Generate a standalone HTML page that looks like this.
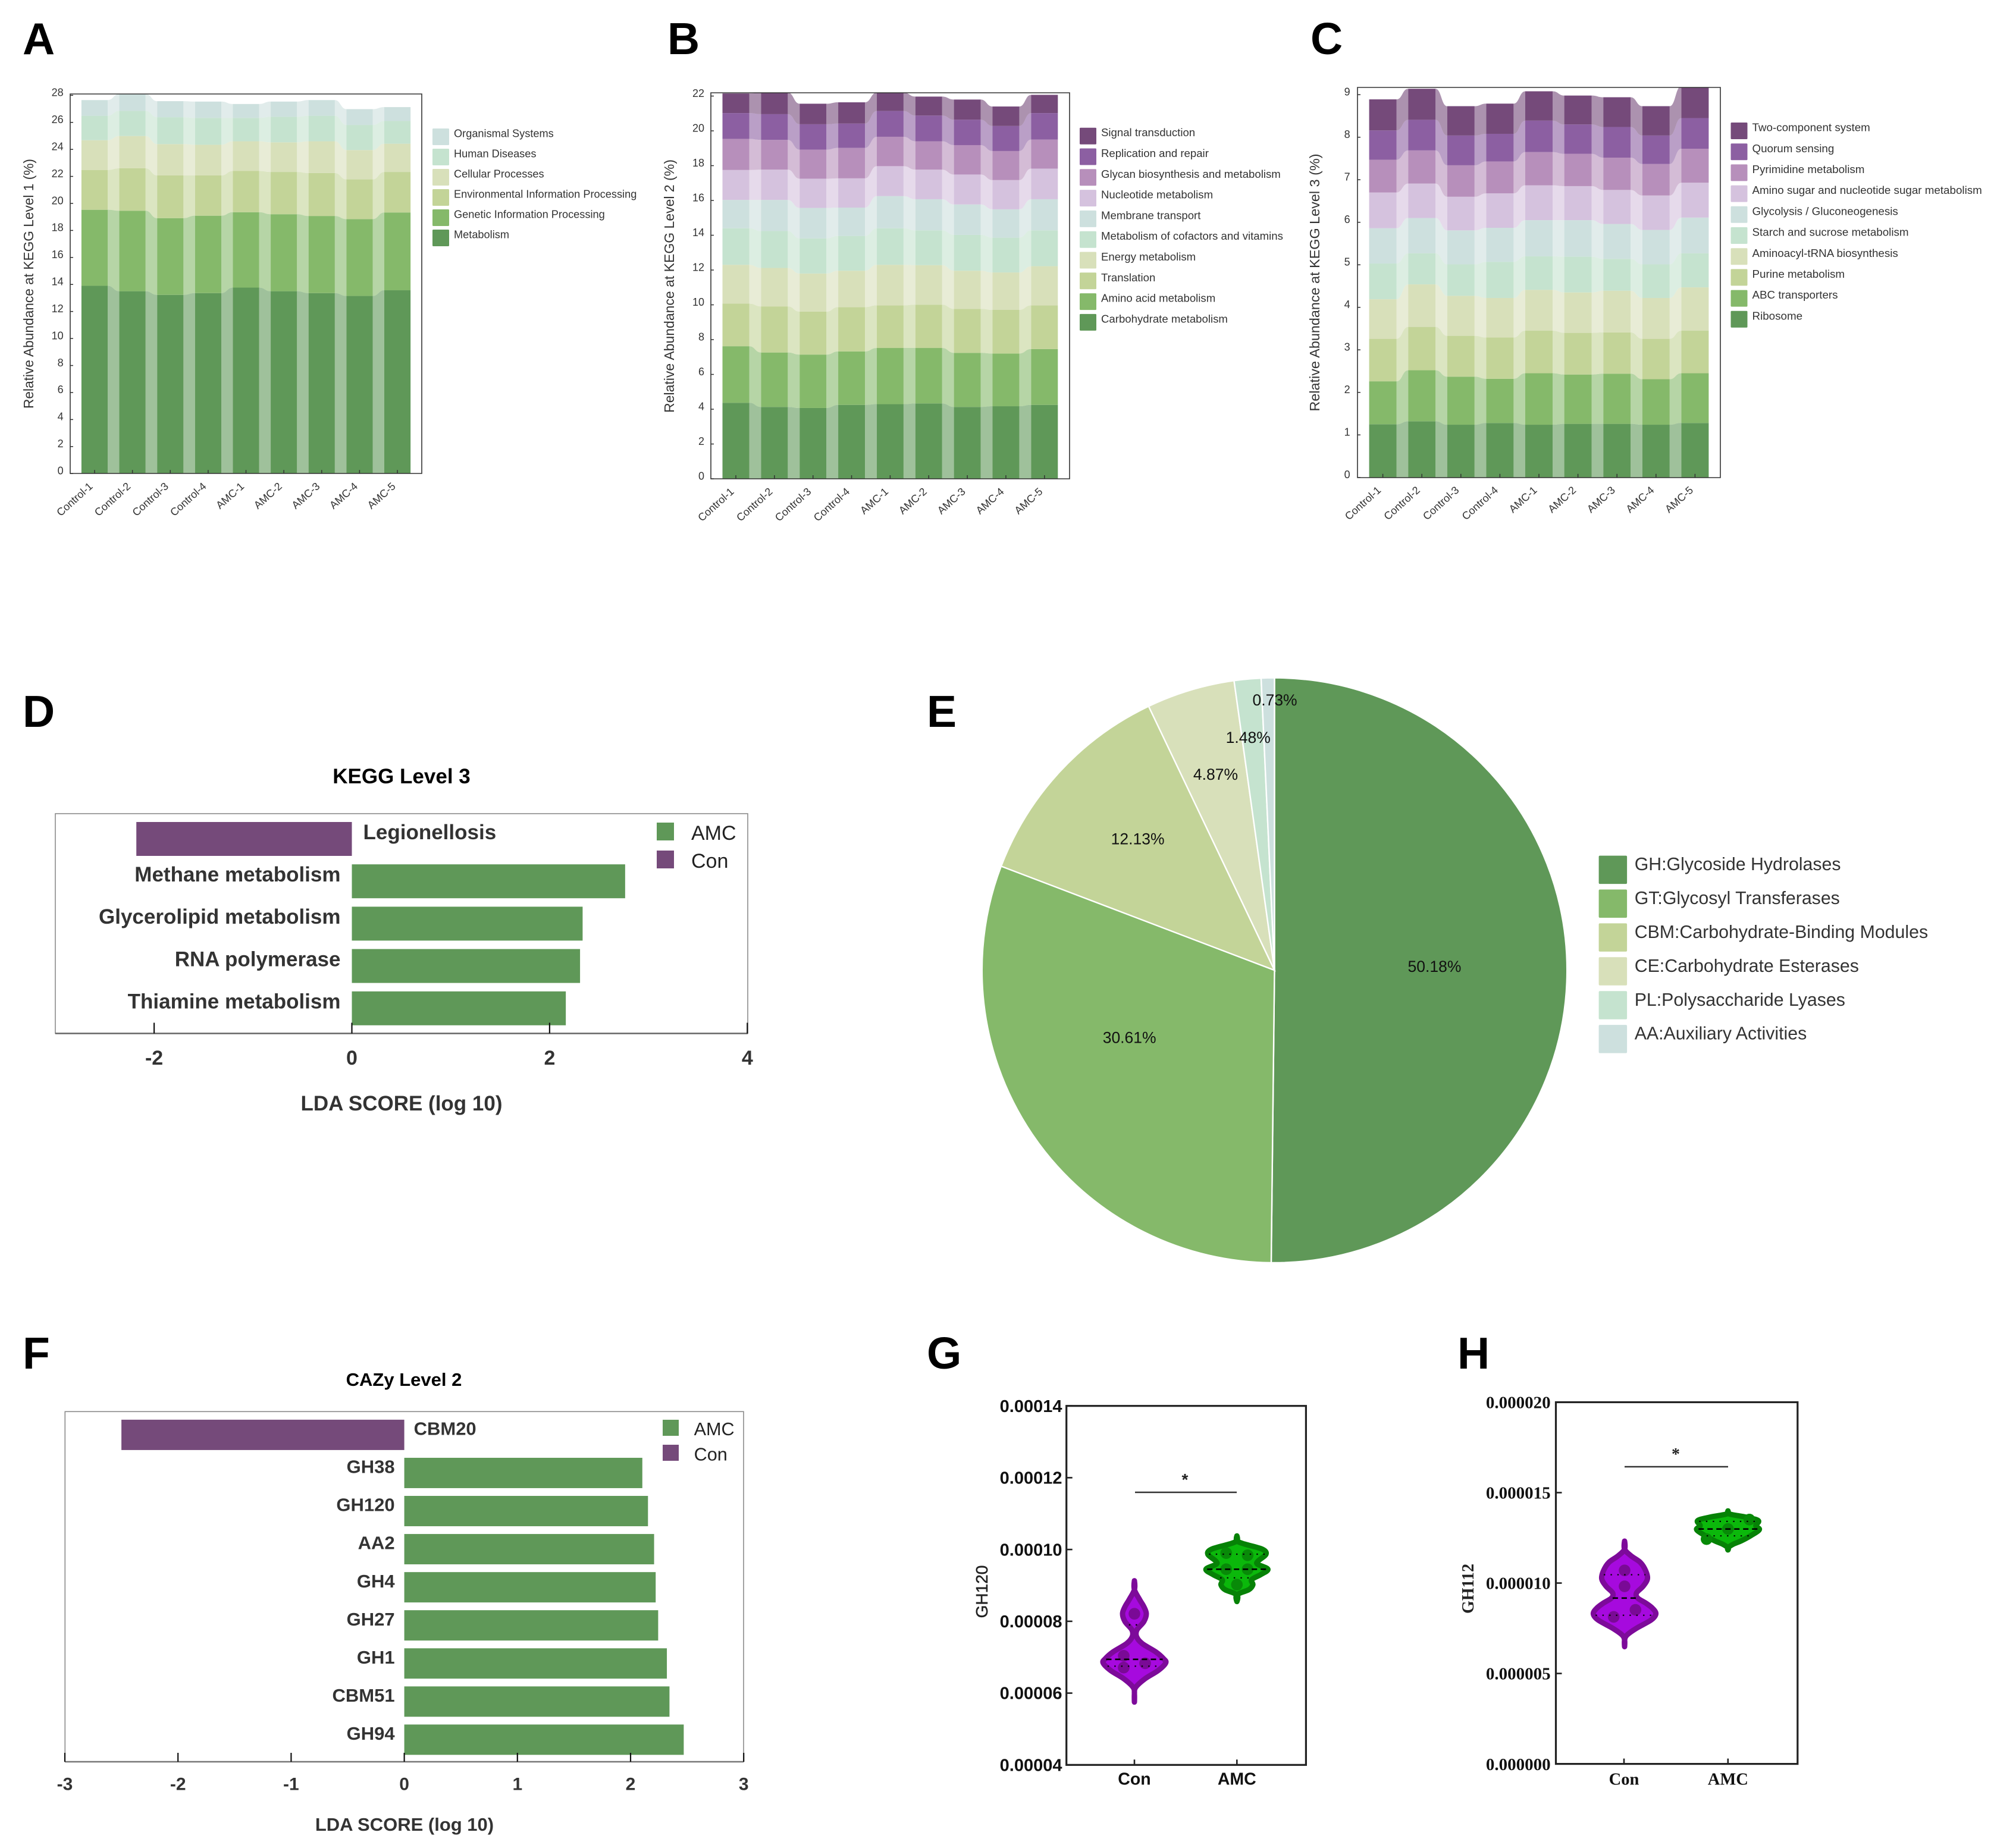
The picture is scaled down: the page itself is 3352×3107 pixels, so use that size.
<!DOCTYPE html>
<html lang="en">
<head>
<meta charset="utf-8">
<title>KEGG and CAZy functional abundance figure</title>
<style>
html,body{margin:0;padding:0;background:#fff}
svg{display:block;font-family:"Liberation Sans",sans-serif}
.letter{font-size:75px;font-weight:700;fill:#000}
.ytitle{font-size:23px;fill:#333}
.lda{font-weight:700;fill:#333}
.serif{font-family:"Liberation Serif",serif}
</style>
</head>
<body>
<svg id="figure" xmlns="http://www.w3.org/2000/svg" width="3352" height="3107" viewBox="0 0 3352 3107">
<rect width="3352" height="3107" fill="#fff"/>
<defs>
<clipPath id="clip-a"><rect x="118" y="158" width="591" height="638"/></clipPath>
<clipPath id="clip-b"><rect x="1195" y="156" width="603" height="649"/></clipPath>
<clipPath id="clip-c"><rect x="2282" y="147" width="610" height="656"/></clipPath>
</defs>

<text class="letter" x="38" y="91">A</text>
<text class="letter" x="1122" y="91">B</text>
<text class="letter" x="2203" y="91">C</text>
<text class="letter" x="38" y="1222">D</text>
<text class="letter" x="1558" y="1222">E</text>
<text class="letter" x="38" y="2301">F</text>
<text class="letter" x="1558" y="2301">G</text>
<text class="letter" x="2450" y="2301">H</text>

<g id="panel-a">
  <g id="panel-a-marks" clip-path="url(#clip-a)"></g>
  <path d="M118 158H709V796H118Z" fill="none" stroke="#333" stroke-width="1.6"/>
  <text class="ytitle" style="font-size:22.7px" text-anchor="middle" transform="translate(56,477) rotate(-90)">Relative Abundance at KEGG Level 1 (%)</text>
</g>
<g id="panel-b">
  <g id="panel-b-marks" clip-path="url(#clip-b)"></g>
  <path d="M1195 156H1798V805H1195Z" fill="none" stroke="#333" stroke-width="1.6"/>
  <text class="ytitle" text-anchor="middle" transform="translate(1133,481) rotate(-90)">Relative Abundance at KEGG Level 2 (%)</text>
</g>
<g id="panel-c">
  <g id="panel-c-marks" clip-path="url(#clip-c)"></g>
  <path d="M2282 147H2892V803H2282Z" fill="none" stroke="#333" stroke-width="1.6"/>
  <text class="ytitle" style="font-size:23.4px" text-anchor="middle" transform="translate(2218,475) rotate(-90)">Relative Abundance at KEGG Level 3 (%)</text>
</g>

<g id="panel-d">
  <text x="675" y="1317" text-anchor="middle" font-size="35" font-weight="700" fill="#000">KEGG Level 3</text>
  <rect x="93" y="1368" width="1164" height="369.5" fill="none" stroke="#8a8a8a" stroke-width="1.6"/>
  <line x1="93" x2="1257" y1="1737.5" y2="1737.5" stroke="#666" stroke-width="2.4"/>
  <text class="lda" x="675" y="1867" text-anchor="middle" font-size="35">LDA SCORE (log 10)</text>
  <rect x="1104" y="1383" width="29" height="30" fill="#5f9858"/>
  <rect x="1104" y="1430" width="29" height="30" fill="#754a7a"/>
  <text x="1162" y="1412" font-size="34" fill="#222">AMC</text>
  <text x="1162" y="1459" font-size="34" fill="#222">Con</text>
</g>

<g id="panel-e"></g>

<g id="panel-f">
  <text x="679" y="2330" text-anchor="middle" font-size="31" font-weight="700" fill="#000">CAZy Level 2</text>
  <rect x="109.3" y="2373.3" width="1140.7" height="588.7" fill="none" stroke="#8a8a8a" stroke-width="1.6"/>
  <line x1="109" x2="1250" y1="2962" y2="2962" stroke="#777" stroke-width="2.6"/>
  <text class="lda" x="680" y="3078" text-anchor="middle" font-size="31">LDA SCORE (log 10)</text>
  <rect x="1114" y="2387" width="27" height="27" fill="#5f9858"/>
  <rect x="1114" y="2429" width="27" height="27" fill="#754a7a"/>
  <text x="1166.6" y="2413" font-size="30.6" fill="#222">AMC</text>
  <text x="1166.6" y="2455.5" font-size="30.6" fill="#222">Con</text>
</g>

<g id="panel-g">
  <rect x="1792.7" y="2363.7" width="402.7" height="603.6" fill="none" stroke="#222" stroke-width="3.2"/>
  <text font-size="28" fill="#222" stroke="#222" stroke-width=".5" text-anchor="middle" transform="translate(1660,2676) rotate(-90)">GH120</text>
  <line x1="1908" x2="2079" y1="2509" y2="2509" stroke="#333" stroke-width="2.6"/>
  <text x="1992" y="2497" font-size="28" font-weight="700" fill="#222" text-anchor="middle">*</text>
</g>

<g id="panel-h">
  <rect x="2615.5" y="2357.5" width="406.3" height="608.1" fill="none" stroke="#222" stroke-width="3.2"/>
  <text class="serif" font-size="28" font-weight="700" fill="#222" text-anchor="middle" transform="translate(2477,2671) rotate(-90)">GH112</text>
  <line x1="2731" x2="2905" y1="2466" y2="2466" stroke="#333" stroke-width="2.6"/>
  <text class="serif" x="2817" y="2454" font-size="28" font-weight="700" fill="#222" text-anchor="middle">*</text>
</g>
</svg>

<script>
/* ---------- shared categories ---------- */
const sampleNames = ['Control-1','Control-2','Control-3','Control-4','AMC-1','AMC-2','AMC-3','AMC-4','AMC-5'];

/* ---------- panel A: KEGG level 1 (layer values, bottom-up) ---------- */
const l1Metabolism = [13.9,13.5,13.23,13.36,13.77,13.5,13.36,13.15,13.57];
const l1Genetic = [5.63,5.96,5.68,5.73,5.58,5.7,5.71,5.69,5.76];
const l1Environmental = [2.95,3.14,3.16,2.98,3.05,3.13,3.18,2.94,3.0];
const l1Cellular = [2.2,2.39,2.32,2.27,2.2,2.19,2.35,2.17,2.09];
const l1Human = [1.81,1.86,1.99,1.99,1.73,1.89,1.89,1.86,1.68];
const l1Organismal = [1.16,1.25,1.19,1.21,1.03,1.13,1.16,1.17,1.03];
const l1Names = ['Metabolism','Genetic Information Processing','Environmental Information Processing','Cellular Processes','Human Diseases','Organismal Systems'];
const l1Ticks = [0,2,4,6,8,10,12,14,16,18,20,22,24,26,28];

/* ---------- panel B: KEGG level 2 ---------- */
const l2Carbohydrate = [4.37,4.13,4.07,4.25,4.29,4.33,4.13,4.17,4.25];
const l2Amino = [3.25,3.13,3.07,3.07,3.23,3.19,3.11,3.03,3.21];
const l2Translation = [2.45,2.65,2.47,2.55,2.45,2.49,2.53,2.51,2.51];
const l2Energy = [2.23,2.21,2.19,2.09,2.33,2.27,2.19,2.15,2.25];
const l2Cofactors = [2.1,2.12,2.02,2.0,2.1,2.0,2.06,2.0,2.06];
const l2Membrane = [1.63,1.79,1.75,1.63,1.85,1.79,1.75,1.63,1.79];
const l2Nucleotide = [1.72,1.74,1.68,1.68,1.72,1.7,1.72,1.68,1.76];
const l2Glycan = [1.79,1.71,1.67,1.75,1.69,1.63,1.69,1.67,1.67];
const l2Replication = [1.48,1.48,1.46,1.4,1.48,1.48,1.46,1.44,1.52];
const l2Signal = [1.13,1.24,1.18,1.22,1.06,1.09,1.16,1.12,1.05];
const l2Names = ['Carbohydrate metabolism','Amino acid metabolism','Translation','Energy metabolism','Metabolism of cofactors and vitamins','Membrane transport','Nucleotide metabolism','Glycan biosynthesis and metabolism','Replication and repair','Signal transduction'];
const l2Ticks = [0,2,4,6,8,10,12,14,16,18,20,22];

/* ---------- panel C: KEGG level 3 ---------- */
const l3Ribosome = [1.25,1.32,1.24,1.28,1.24,1.26,1.26,1.24,1.28];
const l3Abc = [1.01,1.2,1.13,1.04,1.21,1.16,1.18,1.07,1.17];
const l3Purine = [1.0,1.02,0.96,0.97,1.0,0.98,0.97,0.95,1.0];
const l3Aminoacyl = [0.93,1.0,0.94,0.93,0.96,0.95,0.98,0.96,1.02];
const l3Starch = [0.84,0.73,0.74,0.85,0.79,0.84,0.75,0.79,0.8];
const l3Glycolysis = [0.83,0.83,0.8,0.8,0.85,0.86,0.82,0.81,0.84];
const l3AminoSugar = [0.84,0.81,0.79,0.81,0.82,0.8,0.8,0.81,0.82];
const l3Pyrimidine = [0.77,0.78,0.74,0.75,0.78,0.76,0.76,0.74,0.8];
const l3Quorum = [0.69,0.72,0.7,0.65,0.74,0.69,0.72,0.67,0.72];
const l3TwoComponent = [0.73,0.73,0.69,0.71,0.69,0.68,0.7,0.69,0.75];
const l3Names = ['Ribosome','ABC transporters','Purine metabolism','Aminoacyl-tRNA biosynthesis','Starch and sucrose metabolism','Glycolysis / Gluconeogenesis','Amino sugar and nucleotide sugar metabolism','Pyrimidine metabolism','Quorum sensing','Two-component system'];
const l3Ticks = [0,1,2,3,4,5,6,7,8,9];

/* ---------- panel D: KEGG LDA ---------- */
const keggLdaNames = ['Legionellosis','Methane metabolism','Glycerolipid metabolism','RNA polymerase','Thiamine metabolism'];
const keggLdaScores = [-2.18,2.764,2.334,2.308,2.164];
const keggLdaTicks = [-2,0,2,4];

/* ---------- panel E: CAZy composition ---------- */
const pieNames = ['GH:Glycoside Hydrolases','GT:Glycosyl Transferases','CBM:Carbohydrate-Binding Modules','CE:Carbohydrate Esterases','PL:Polysaccharide Lyases','AA:Auxiliary Activities'];
const pieValues = [50.18,30.61,12.13,4.87,1.48,0.73];

/* ---------- panel F: CAZy LDA ---------- */
const cazyLdaNames = ['CBM20','GH38','GH120','AA2','GH4','GH27','GH1','CBM51','GH94'];
const cazyLdaScores = [-2.5,2.104,2.154,2.208,2.222,2.244,2.321,2.344,2.47];
const cazyLdaTicks = [-3,-2,-1,0,1,2,3];

/* ---------- panel G: GH120 violins ---------- */
const violinGroups = ['Con','AMC'];
const gTicks = [0.00004,0.00006,0.00008,0.0001,0.00012,0.00014];
const gConLevels = [9.13e-5,8.88e-5,8.6e-5,8.41e-5,8.21e-5,7.99e-5,7.76e-5,7.57e-5,7.38e-5,7.15e-5,6.96e-5,6.84e-5,6.63e-5,6.4e-5,6.16e-5,5.98e-5,5.75e-5];
const gConDensity = [0,0,.17,.30,.38,.30,.08,.07,.25,.68,.93,1,.76,.34,.04,0,0];
const gConDots = [8.21e-5,7.04e-5,6.71e-5,6.83e-5];
const gConJitter = [0,-1,-1,1];
const gConQuartiles = [6.75e-5,6.94e-5,7.9e-5];
const gAmcLevels = [10.38e-5,10.24e-5,10.15e-5,10.01e-5,9.87e-5,9.68e-5,9.59e-5,9.45e-5,9.3e-5,9.16e-5,9.02e-5,8.88e-5,8.74e-5,8.55e-5];
const gAmcDensity = [0,0,.25,.81,.93,.68,.66,.99,.76,.47,.51,.38,0,0];
const gAmcDots = [9.9e-5,9.84e-5,9.45e-5,9.45e-5,9.02e-5];
const gAmcJitter = [-1,1,-1,1,0];
const gAmcQuartiles = [9.21e-5,9.45e-5,9.87e-5];

/* ---------- panel H: GH112 violins ---------- */
const hTicks = [0,0.000005,0.00001,0.000015,0.00002];
const hConLevels = [12.32e-6,11.87e-6,11.5e-6,11.13e-6,10.66e-6,10.23e-6,9.82e-6,9.45e-6,9.17e-6,8.89e-6,8.61e-6,8.3e-6,7.96e-6,7.5e-6,7.13e-6,6.85e-6,6.48e-6];
const hConDensity = [0,0,.21,.51,.68,.73,.59,.38,.42,.68,.89,1,.85,.38,.08,0,0];
const hConDots = [10.7e-6,9.82e-6,8.52e-6,8.13e-6];
const hConJitter = [0,0,1,-1];
const hConQuartiles = [8.22e-6,9.17e-6,10.46e-6];
const hAmcLevels = [13.99e-6,13.82e-6,13.64e-6,13.45e-6,13.17e-6,12.95e-6,12.61e-6,12.33e-6,12.15e-6,11.95e-6,11.83e-6];
const hAmcDensity = [0,.04,.59,.97,.89,1,.72,.42,.17,0,0];
const hAmcDots = [13.51e-6,12.43e-6,12.99e-6];
const hAmcJitter = [1,-1,0];
const hAmcQuartiles = [12.61e-6,12.99e-6,13.41e-6];

/* ---------- drawing helpers ---------- */
const SVGNS = 'http://www.w3.org/2000/svg';
const palette = ['#5f9858','#85b96a','#c3d498','#d8e0ba','#c5e3cf','#cde0de','#d5c2de','#b78fbb','#8c5fa2','#754a7a'];
const BAR_GREEN = '#5f9858';
const BAR_PURPLE = '#754a7a';

function make(parent, tag, props, text) {
  const node = document.createElementNS(SVGNS, tag);
  for (const key in props) node.setAttribute(key, props[key]);
  if (text !== undefined) node.textContent = text;
  parent.appendChild(node);
  return node;
}
function slug(s) {
  return String(s).toLowerCase().replace(/[^a-z0-9]+/g, '-').replace(/^-|-$/g, '');
}

/* ---------- stacked bars with connecting bands ---------- */
function drawStacked(cfg, layers, names, ticks) {
  const panel = document.getElementById(cfg.id);
  const marks = document.getElementById(cfg.id + '-marks');
  const xAt = i => cfg.firstX + i * cfg.stepX;
  const yAt = v => cfg.zeroY - v * cfg.unit;
  const halfBar = cfg.barW / 2;
  const totals = sampleNames.map(() => 0);

  layers.forEach((layer, k) => {
    const lower = totals.slice();
    layer.forEach((v, i) => { totals[i] += v; });
    const upper = totals.slice();
    const layerName = slug(names[k]);

    for (let i = 0; i < sampleNames.length - 1; i++) {
      const xa = xAt(i) + halfBar;
      const xb = xAt(i + 1) - halfBar;
      const xm = (xa + xb) / 2;
      const d = 'M' + xa + ' ' + yAt(upper[i]) +
        'C' + xm + ' ' + yAt(upper[i]) + ' ' + xm + ' ' + yAt(upper[i + 1]) + ' ' + xb + ' ' + yAt(upper[i + 1]) +
        'L' + xb + ' ' + yAt(lower[i + 1]) +
        'C' + xm + ' ' + yAt(lower[i + 1]) + ' ' + xm + ' ' + yAt(lower[i]) + ' ' + xa + ' ' + yAt(lower[i]) + 'Z';
      const band = make(marks, 'path', { d: d, fill: palette[k], 'fill-opacity': 0.6 });
      
      
    }
    sampleNames.forEach((sample, i) => {
      const bar = make(marks, 'rect', {
        x: xAt(i) - halfBar, y: yAt(upper[i]), width: cfg.barW,
        height: yAt(lower[i]) - yAt(upper[i]), fill: palette[k]
      });
      
      
    });
  });

  ticks.forEach(t => {
    const mark = make(panel, 'line', { x1: cfg.left, x2: cfg.left + 5, y1: yAt(t), y2: yAt(t), stroke: '#333', 'stroke-width': 1.5 });
    
    
    const label = make(panel, 'text', { x: cfg.labelRight, y: yAt(t) - 5, dy: '.35em', 'text-anchor': 'end', 'font-size': 18, fill: '#333' }, t);
    
    
  });

  sampleNames.forEach((sample, i) => {
    const mark = make(panel, 'line', { x1: xAt(i), x2: xAt(i), y1: cfg.zeroY, y2: cfg.zeroY - 6, stroke: '#333', 'stroke-width': 1.5 });
    
    
    const label = make(panel, 'text', {
      'text-anchor': 'end', 'font-size': 18, fill: '#333',
      transform: 'translate(' + (xAt(i) - 2) + ',' + (cfg.zeroY + 23) + ') rotate(-42)'
    }, sample);
    
    
  });

  for (let k = layers.length - 1, row = 0; k >= 0; k--, row++) {
    const top = cfg.legendY + row * cfg.legendStep;
    const swatch = make(panel, 'rect', { x: cfg.legendX, y: top, width: 28, height: 28, rx: 1.5, fill: palette[k] });
    
    
    const label = make(panel, 'text', { x: cfg.legendX + 36, y: top + 8, dy: '.35em', 'font-size': cfg.legendFont, fill: '#333' }, names[k]);
    
    
  }
}

drawStacked({ id: 'panel-a', left: 118, zeroY: 796.2, unit: 22.71, firstX: 159, stepX: 63.63, barW: 44.2, labelRight: 106.6, legendX: 727, legendY: 216, legendStep: 34, legendFont: 18.2 },
  [l1Metabolism, l1Genetic, l1Environmental, l1Cellular, l1Human, l1Organismal], l1Names, l1Ticks);
drawStacked({ id: 'panel-b', left: 1195, zeroY: 805, unit: 29.25, firstX: 1237, stepX: 64.85, barW: 45, labelRight: 1184, legendX: 1815, legendY: 214.7, legendStep: 34.8, legendFont: 18.6 },
  [l2Carbohydrate, l2Amino, l2Translation, l2Energy, l2Cofactors, l2Membrane, l2Nucleotide, l2Glycan, l2Replication, l2Signal], l2Names, l2Ticks);
drawStacked({ id: 'panel-c', left: 2282, zeroY: 802.7, unit: 71.5, firstX: 2324.6, stepX: 65.6, barW: 46, labelRight: 2269.7, legendX: 2909.5, legendY: 206, legendStep: 35.2, legendFont: 18.8 },
  [l3Ribosome, l3Abc, l3Purine, l3Aminoacyl, l3Starch, l3Glycolysis, l3AminoSugar, l3Pyrimidine, l3Quorum, l3TwoComponent], l3Names, l3Ticks);

/* ---------- LDA bars ---------- */
function drawLda(cfg, names, scores, ticks) {
  const panel = document.getElementById(cfg.id);
  const xAt = v => cfg.zeroX + v * cfg.unit;
  names.forEach((name, i) => {
    const top = cfg.firstTop + i * cfg.step;
    const score = scores[i];
    const bar = make(panel, 'rect', {
      x: Math.min(xAt(0), xAt(score)), y: top, width: Math.abs(xAt(score) - xAt(0)), height: cfg.barH,
      fill: score < 0 ? BAR_PURPLE : BAR_GREEN
    });
    
    
    const label = make(panel, 'text', {
      x: score < 0 ? xAt(0) + cfg.labelGap : xAt(0) - cfg.labelGap,
      y: top + cfg.barH / 2 - cfg.labelLift, dy: '.35em',
      'text-anchor': score < 0 ? 'start' : 'end',
      'font-size': cfg.labelFont, 'font-weight': 700, fill: '#333'
    }, name);
    
    
  });
  ticks.forEach(t => {
    const mark = make(panel, 'line', { x1: xAt(t), x2: xAt(t), y1: cfg.axisY, y2: cfg.axisY - cfg.tickH, stroke: '#111', 'stroke-width': 2.2 });
    
    
    const label = make(panel, 'text', { x: xAt(t), y: cfg.tickLabelY, dy: '.35em', 'text-anchor': 'middle', 'font-size': cfg.tickFont, 'font-weight': 700, fill: '#333' }, t);
    
    
  });
}
drawLda({ id: 'panel-d', zeroX: 591.5, unit: 166.2, firstTop: 1382, step: 71.2, barH: 57, labelGap: 19, labelLift: 12, labelFont: 35, axisY: 1737.5, tickH: 18, tickLabelY: 1778, tickFont: 34 },
  keggLdaNames, keggLdaScores, keggLdaTicks);
drawLda({ id: 'panel-f', zeroX: 679.6, unit: 190.2, firstTop: 2386.9, step: 64.06, barH: 51, labelGap: 16, labelLift: 10.7, labelFont: 31, axisY: 2962, tickH: 15, tickLabelY: 2999, tickFont: 30 },
  cazyLdaNames, cazyLdaScores, cazyLdaTicks);

/* ---------- pie ---------- */
(function drawPie() {
  const panel = document.getElementById('panel-e');
  const cx = 2142.5, cy = 1631.3, r = 491.7;
  const total = pieValues.reduce((a, b) => a + b, 0);
  const labelRadius = [0.547, 0.6, 0.636, 0.7, 0.8, 0.925];
  const labelNudgeX = [0, 0, 0, 0, -8, 11];
  const labelNudgeY = [-8, -53, -9, 0, 0, 0];
  let acc = 0;
  const point = (frac, rad) => [cx + rad * Math.sin(frac * 2 * Math.PI), cy - rad * Math.cos(frac * 2 * Math.PI)];
  pieValues.forEach((v, i) => {
    const from = acc / total;
    acc += v;
    const to = acc / total;
    const a = point(from, r), b = point(to, r);
    const large = to - from > 0.5 ? 1 : 0;
    const slice = make(panel, 'path', {
      d: 'M' + cx + ' ' + cy + 'L' + a[0] + ' ' + a[1] + 'A' + r + ' ' + r + ' 0 ' + large + ' 1 ' + b[0] + ' ' + b[1] + 'Z',
      fill: palette[i], stroke: '#fff', 'stroke-width': 2.4
    });
    
    
  });
  acc = 0;
  pieValues.forEach((v, i) => {
    const mid = (acc + v / 2) / total;
    acc += v;
    const p = point(mid, r * labelRadius[i]);
    const label = make(panel, 'text', { x: p[0] + labelNudgeX[i], y: p[1] + labelNudgeY[i], dy: '.35em', 'text-anchor': 'middle', 'font-size': 26.5, fill: '#111' }, v.toFixed(2) + '%');
    
    
  });
  pieNames.forEach((name, i) => {
    const top = 1438.6 + i * 56.9;
    const swatch = make(panel, 'rect', { x: 2687.6, y: top, width: 47.5, height: 47.5, rx: 2, fill: palette[i] });
    
    
    const label = make(panel, 'text', { x: 2747.7, y: top + 14, dy: '.35em', 'font-size': 30.3, fill: '#333' }, name);
    
    
  });
})();

/* ---------- violins ---------- */
function smoothClosed(points) {
  const n = points.length;
  let d = 'M' + points[0][0] + ' ' + points[0][1];
  for (let i = 0; i < n; i++) {
    const p0 = points[(i - 1 + n) % n], p1 = points[i], p2 = points[(i + 1) % n], p3 = points[(i + 2) % n];
    d += 'C' + (p1[0] + (p2[0] - p0[0]) / 6) + ' ' + (p1[1] + (p2[1] - p0[1]) / 6) + ' ' +
      (p2[0] - (p3[0] - p1[0]) / 6) + ' ' + (p2[1] - (p3[1] - p1[1]) / 6) + ' ' + p2[0] + ' ' + p2[1];
  }
  return d + 'Z';
}
function densityAt(levels, density, value) {
  for (let i = 0; i < levels.length - 1; i++) {
    if (value <= levels[i] && value >= levels[i + 1]) {
      const f = (levels[i] - value) / (levels[i] - levels[i + 1]);
      return density[i] + f * (density[i + 1] - density[i]);
    }
  }
  return 0;
}
const PURPLE_STYLE = { fill: '#a60ade', stroke: '#7d0a9a', dot: '#7a0a96' };
const GREEN_STYLE = { fill: '#0bb80b', stroke: '#068206', dot: '#088a08' };

function drawViolin(panel, yAt, cx, style, name, levels, density, dots, jitter, jitterPx, quartiles) {
  const W = 52.6;
  const right = levels.map((v, i) => [cx + density[i] * W, yAt(v)]);
  const left = levels.slice(1, -1).map((v, i) => [cx - density[i + 1] * W, yAt(v)]).reverse();
  const shape = make(panel, 'path', {
    d: smoothClosed(right.concat(left)), fill: style.fill, stroke: style.stroke,
    'stroke-width': 9, 'stroke-linejoin': 'round'
  });
  
  
  dots.forEach((v, i) => {
    const dot = make(panel, 'circle', { cx: cx + jitter[i] * jitterPx, cy: yAt(v), r: 9.8, fill: style.dot });
    
    
  });
  quartiles.forEach((q, i) => {
    const half = Math.max(densityAt(levels, density, q) * W - 2, 1);
    const line = make(panel, 'line', {
      x1: cx - half, x2: cx + half, y1: yAt(q), y2: yAt(q), stroke: '#000',
      'stroke-width': i === 1 ? 2.6 : 2.2, 'stroke-dasharray': i === 1 ? '9 6' : '2.4 9'
    });
    
    
  });
}
function drawViolinAxes(panel, cfg, ticks, decimals) {
  const yAt = cfg.yAt;
  ticks.forEach(t => {
    const mark = make(panel, 'line', { x1: cfg.left, x2: cfg.left + 10, y1: yAt(t), y2: yAt(t), stroke: '#222', 'stroke-width': 2.6 });
    
    
    const label = make(panel, 'text', { x: cfg.labelRight, y: yAt(t), dy: '.35em', 'text-anchor': 'end', 'font-size': 29, 'font-weight': 700, fill: '#111', 'font-family': cfg.font }, t.toFixed(decimals));
    
    
  });
  violinGroups.forEach((group, i) => {
    const mark = make(panel, 'line', { x1: cfg.groupX[i], x2: cfg.groupX[i], y1: cfg.bottom, y2: cfg.bottom - 9, stroke: '#222', 'stroke-width': 2.6 });
    
    
    const label = make(panel, 'text', { x: cfg.groupX[i], y: 2990.4, dy: '.35em', 'text-anchor': 'middle', 'font-size': 28.5, 'font-weight': 700, fill: '#111', 'font-family': cfg.font }, group);
    
    
  });
}

const gPanel = document.getElementById('panel-g');
const gY = v => 2967.3 - (v - 0.00004) / 0.0001 * 603.6;
drawViolinAxes(gPanel, { yAt: gY, left: 1792.7, bottom: 2967.3, labelRight: 1785.5, groupX: [1907, 2079.3], font: '"Liberation Sans",sans-serif' }, gTicks, 5);
drawViolin(gPanel, gY, 1907, PURPLE_STYLE, 'con', gConLevels, gConDensity, gConDots, gConJitter, 18, gConQuartiles);
drawViolin(gPanel, gY, 2079.3, GREEN_STYLE, 'amc', gAmcLevels, gAmcDensity, gAmcDots, gAmcJitter, 18, gAmcQuartiles);

const hPanel = document.getElementById('panel-h');
const hY = v => 2965.6 - v / 0.00002 * 608.1;
drawViolinAxes(hPanel, { yAt: hY, left: 2615.5, bottom: 2965.6, labelRight: 2606.6, groupX: [2730, 2904.8], font: '"Liberation Serif",serif' }, hTicks, 6);
drawViolin(hPanel, hY, 2731, PURPLE_STYLE, 'con', hConLevels, hConDensity, hConDots, hConJitter, 18.3, hConQuartiles);
drawViolin(hPanel, hY, 2904.8, GREEN_STYLE, 'amc', hAmcLevels, hAmcDensity, hAmcDots, hAmcJitter, 36, hAmcQuartiles);
</script>
</body>
</html>
